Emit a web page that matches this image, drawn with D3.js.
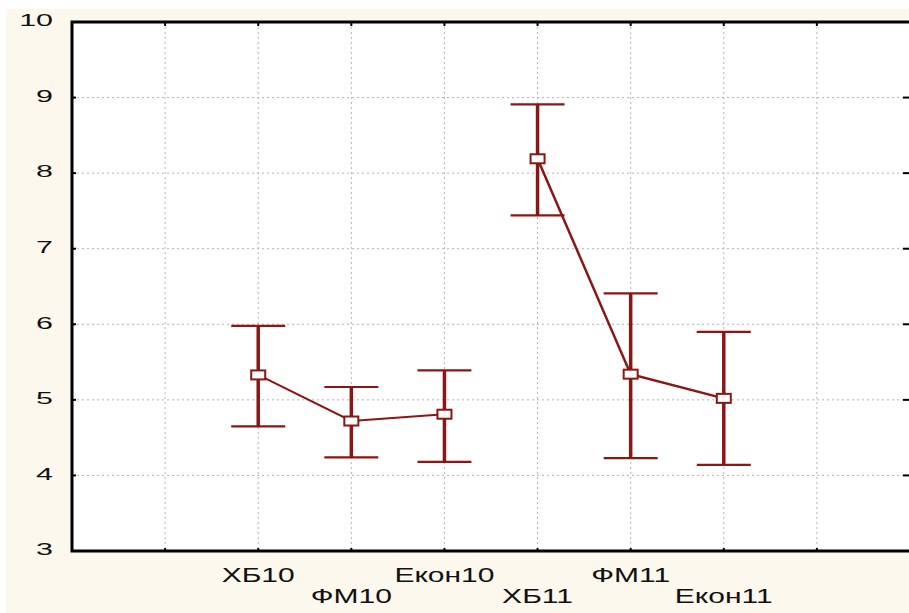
<!DOCTYPE html>
<html>
<head>
<meta charset="utf-8">
<script src="https://cdn.jsdelivr.net/npm/d3@7"></script>
<style>
  html, body { margin: 0; padding: 0; background: #fff; }
  svg { display: block; }
</style>
</head>
<body>
<div id="chart"></div>
<script>
// дані
const categories = ["ХБ10", "ФМ10", "Екон10", "ХБ11", "ФМ11", "Екон11"];
const groups = ["10", "10", "10", "11", "11", "11"];
const means = [5.33, 4.72, 4.81, 8.19, 5.34, 5.02];
const lower = [4.65, 4.24, 4.18, 7.44, 4.23, 4.14];
const upper = [5.98, 5.17, 5.39, 8.91, 6.41, 5.90];
const yTicks = [3, 4, 5, 6, 7, 8, 9, 10];

const width = 909, height = 613;
const m = { left: 72, top: 22, right: 910, bottom: 551 };
const red = "#8a1616";

const svg = d3.select("#chart").append("svg")
    .attr("width", width).attr("height", height)
    .style("font-family", "'Liberation Sans', Arial, sans-serif");

// фон
svg.append("rect").attr("x", 6).attr("y", 9)
    .attr("width", width).attr("height", height).attr("fill", "#fdf8ed");
svg.append("rect").attr("x", m.left).attr("y", m.top)
    .attr("width", m.right - m.left).attr("height", m.bottom - m.top).attr("fill", "#fff");

const x = d3.scalePoint().domain(categories).range([m.left, m.right]).padding(2);
const y = d3.scaleLinear().domain([3, 10]).range([m.bottom, m.top]);
const step = x.step();

// сітка
const xGrid = [x(categories[0]) - step, ...categories.map(c => x(c)), x(categories[categories.length - 1]) + step];
svg.append("g").selectAll("line").data(xGrid).join("line")
    .attr("x1", d => d).attr("x2", d => d)
    .attr("y1", m.top).attr("y2", m.bottom)
    .attr("stroke", "#b4b4b4").attr("stroke-dasharray", "2,3");
svg.append("g").selectAll("line").data(yTicks.slice(1, -1)).join("line")
    .attr("x1", m.left).attr("x2", m.right)
    .attr("y1", d => y(d)).attr("y2", d => y(d))
    .attr("stroke", "#b4b4b4").attr("stroke-dasharray", "2,3");

// внутрішні засічки
const ticks = svg.append("g").attr("stroke", "#000").attr("stroke-width", 2);
xGrid.forEach(d => {
    ticks.append("line").attr("x1", d).attr("x2", d).attr("y1", m.top).attr("y2", m.top + 4);
    ticks.append("line").attr("x1", d).attr("x2", d).attr("y1", m.bottom).attr("y2", m.bottom - 3);
});
yTicks.forEach(d => {
    ticks.append("line").attr("x1", m.left).attr("x2", m.left + 4).attr("y1", y(d)).attr("y2", y(d));
    ticks.append("line").attr("x1", 903).attr("x2", 909).attr("y1", y(d)).attr("y2", y(d));
});

// рамка
svg.append("path")
    .attr("d", `M${m.right},${m.top}H${m.left}V${m.bottom}H${m.right}`)
    .attr("fill", "none").attr("stroke", "#000").attr("stroke-width", 3);

// підписи осі Y
svg.append("g").selectAll("text").data(yTicks).join("text")
    .attr("x", 53).attr("y", d => y(d))
    .attr("text-anchor", "end").attr("dominant-baseline", "middle")
    .style("font-size", "16px").attr("fill", "#111")
    .text(d => d)
    .each(function() {
        d3.select(this).attr("textLength", this.getComputedTextLength() * 1.9)
            .attr("lengthAdjust", "spacingAndGlyphs");
    });

// підписи осі X (у два ряди)
svg.append("g").selectAll("text").data(categories).join("text")
    .attr("x", d => x(d)).attr("y", (d, i) => i % 2 === 0 ? 582 : 603)
    .attr("text-anchor", "middle")
    .style("font-size", "20px").attr("fill", "#111")
    .text(d => d)
    .each(function() {
        d3.select(this).attr("textLength", this.getComputedTextLength() * 1.5)
            .attr("lengthAdjust", "spacingAndGlyphs");
    });

const rows = categories.map((c, i) => ({ c, g: groups[i], mean: means[i], lo: lower[i], hi: upper[i] }));

// лінії між середніми
const line = d3.line().x(d => x(d.c)).y(d => y(d.mean));
d3.groups(rows, d => d.g).forEach(([g, vals]) => {
    svg.append("path").datum(vals)
        .attr("d", line).attr("fill", "none")
        .attr("stroke", red).attr("stroke-width", g === "11" ? 2.5 : 2);
});

// довірчі інтервали
const bars = svg.append("g").selectAll("g").data(rows).join("g");
bars.append("line")
    .attr("x1", d => x(d.c)).attr("x2", d => x(d.c))
    .attr("y1", d => y(d.lo)).attr("y2", d => y(d.hi))
    .attr("stroke", red).attr("stroke-width", 3.5);
["lo", "hi"].forEach(k => {
    bars.append("line")
        .attr("x1", d => x(d.c) - 27).attr("x2", d => x(d.c) + 27)
        .attr("y1", d => y(d[k])).attr("y2", d => y(d[k]))
        .attr("stroke", red).attr("stroke-width", 2.2);
});
bars.append("rect")
    .attr("x", d => x(d.c) - 7).attr("y", d => y(d.mean) - 4.5)
    .attr("width", 14).attr("height", 9)
    .attr("fill", "#fff").attr("stroke", red).attr("stroke-width", 2);
</script>
</body>
</html>
